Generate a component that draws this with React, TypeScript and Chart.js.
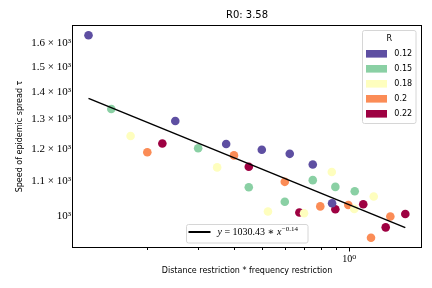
import { useEffect, useRef } from 'react';
import { Chart, registerables } from 'chart.js';

Chart.register(...registerables);

// ---- data ----
const rLabels = ['0.12', '0.15', '0.18', '0.2', '0.22'];
const rColors = ['#5e4fa2', '#8ad0a4', '#fefebe', '#fb8c56', '#9e0142'];

const xR012 = [0.126, 0.251, 0.376, 0.499, 0.623, 0.748, 0.872];
const yR012 = [1636, 1295, 1216, 1197, 1184, 1150, 1035];
const xR015 = [0.151, 0.301, 0.45, 0.599, 0.748, 0.895, 1.044];
const yR015 = [1338, 1202, 1081, 1039, 1102, 1082, 1069];
const xR018 = [0.176, 0.35, 0.524, 0.698, 0.87, 1.04, 1.214];
const yR018 = [1243, 1141, 1012, 1007, 1127, 1019, 1054];
const xR020 = [0.201, 0.4, 0.599, 0.794, 0.992, 1.188, 1.385];
const yR020 = [1189, 1179, 1097, 1026, 1030, 942, 998];
const xR022 = [0.2265, 0.45, 0.6725, 0.895, 1.117, 1.335, 1.56];
const yR022 = [1218, 1143, 1009, 1018, 1032, 969, 1005];

const seriesX = [xR012, xR015, xR018, xR020, xR022];
const seriesY = [yR012, yR015, yR018, yR020, yR022];

const fitA = 1030.43;
const fitB = -0.14;
const fitX = [0.126, 1.56];

const xTicks = [0.2, 0.3, 0.4, 0.5, 0.6, 0.7, 0.8, 0.9, 1];
const yTicks = [1000, 1100, 1200, 1300, 1400, 1500, 1600];

const titleText = 'R0: 3.58';
const xTitle = 'Distance restriction * frequency restriction';
const yTitle = 'Speed of epidemic spread τ';
const legendTitle = 'R';

const SANS = '"DejaVu Sans", sans-serif';
const SERIF = '"Liberation Serif", "DejaVu Serif", serif';

const decor = {
  id: 'decor',
  afterDraw(chart: any) {
    const { ctx, chartArea } = chart;
    const { left, top, right, bottom } = chartArea;
    const xs = chart.scales.x;
    ctx.save();
    // frame
    ctx.strokeStyle = '#000';
    ctx.lineWidth = 1;
    ctx.strokeRect(Math.round(left) - 0.5, Math.round(top) + 0.5, Math.round(right - left) + 1, Math.round(bottom - top) - 1);
    // x ticks
    for (const v of xTicks) {
      const px = Math.round(xs.getPixelForValue(v)) + 0.5;
      const len = v === 1 ? 3.5 : 2;
      ctx.beginPath();
      ctx.moveTo(px, bottom);
      ctx.lineTo(px, bottom + len);
      ctx.stroke();
    }
    // title
    ctx.fillStyle = '#000';
    ctx.font = `10px ${SANS}`;
    ctx.textAlign = 'center';
    ctx.textBaseline = 'middle';
    ctx.fillText(titleText, (left + right) / 2, 15.5);

    // R legend
    const lx = 362.5, ly = 30.5, lw = 53.5, lh = 93;
    ctx.beginPath();
    (ctx as any).roundRect(lx, ly, lw, lh, 2);
    ctx.fillStyle = 'rgba(255,255,255,0.8)';
    ctx.fill();
    ctx.strokeStyle = '#d6d6d6';
    ctx.stroke();
    ctx.fillStyle = '#000';
    ctx.font = `8px ${SANS}`;
    ctx.textAlign = 'center';
    ctx.fillText(legendTitle, lx + lw / 2, 39);
    ctx.textAlign = 'left';
    rLabels.forEach((lab, i) => {
      const cy = 53.8 + i * 15;
      ctx.fillStyle = rColors[i];
      ctx.fillRect(366, cy - 3.8, 21, 7.6);
      ctx.fillStyle = '#000';
      ctx.fillText(lab, 394.3, cy + 0.5);
    });

    // fit legend
    const fx = 186.5, fy = 224.5, fw = 121.5, fh = 18.5;
    ctx.beginPath();
    (ctx as any).roundRect(fx, fy, fw, fh, 2);
    ctx.fillStyle = 'rgba(255,255,255,0.8)';
    ctx.fill();
    ctx.strokeStyle = '#d6d6d6';
    ctx.stroke();
    ctx.strokeStyle = '#000';
    ctx.lineWidth = 2;
    ctx.beginPath();
    ctx.moveTo(188.5, 232);
    ctx.lineTo(210.5, 232);
    ctx.stroke();
    ctx.fillStyle = '#000';
    ctx.textBaseline = 'alphabetic';
    let tx = 217.5;
    const base = 235;
    const put = (s: string, font: string, dy = 0) => {
      ctx.font = font;
      ctx.fillText(s, tx, base + dy);
      tx += ctx.measureText(s).width;
    };
    put('y', `italic 10px ${SERIF}`);
    put(' = 1030.43 ∗ ', `10px ${SERIF}`);
    put('x', `italic 10px ${SERIF}`);
    tx += 0.5;
    put('−0.14', `7px ${SERIF}`, -4);
    ctx.restore();
  },
};

export default function App() {
  const ref = useRef<HTMLCanvasElement | null>(null);
  useEffect(() => {
    if (!ref.current) return;
    const datasets: any[] = [
      {
        type: 'line',
        label: 'fit',
        data: fitX.map((x) => ({ x, y: fitA * Math.pow(x, fitB) })),
        borderColor: '#000',
        borderWidth: 1.5,
        pointRadius: 0,
        order: -1,
      },
      ...seriesX.map((xsArr, i) => ({
        type: 'scatter',
        label: rLabels[i],
        data: xsArr.map((x, j) => ({ x, y: seriesY[i][j] })),
        backgroundColor: rColors[i],
        borderWidth: 0,
        pointRadius: 4.3,
        order: 1,
      })),
    ];
    const chart = new Chart(ref.current, {
      type: 'scatter',
      data: { datasets },
      options: {
        animation: false,
        responsive: false,
        devicePixelRatio: 1,
        layout: { padding: { top: 25, right: 11, left: 0, bottom: 0 } },
        plugins: { legend: { display: false }, tooltip: { enabled: false }, title: { display: false } },
        scales: {
          x: {
            type: 'logarithmic',
            min: 0.1114,
            max: 1.767,
            afterBuildTicks: (s: any) => {
              s.ticks = xTicks.map((v) => ({ value: v, major: v === 1 }));
            },
            afterFit: (s: any) => {
              s.height = 40;
            },
            grid: { display: false, drawTicks: false },
            border: { display: false },
            ticks: {
              autoSkip: false,
              maxRotation: 0,
              padding: 5,
              color: '#000',
              font: { family: SERIF, size: 10 },
              callback: (v: any) => (Number(v) === 1 ? '10⁰' : ''),
            },
            title: {
              display: true,
              text: xTitle,
              color: '#000',
              font: { family: SANS, size: 8 },
              padding: { top: 0, bottom: 12 },
            },
          },
          y: {
            type: 'logarithmic',
            min: 916,
            max: 1682,
            afterBuildTicks: (s: any) => {
              s.ticks = yTicks.map((v) => ({ value: v, major: v === 1000 }));
            },
            afterFit: (s: any) => {
              s.width = 73;
            },
            grid: { display: false, drawTicks: false },
            border: { display: false },
            ticks: {
              autoSkip: false,
              padding: 2,
              color: '#000',
              font: { family: SERIF, size: 11 },
              callback: (v: any) => {
                const n = Number(v);
                return n === 1000 ? '10³' : `${(n / 1000).toFixed(1)} × 10³`;
              },
            },
            title: {
              display: true,
              text: yTitle,
              color: '#000',
              font: { family: SANS, size: 8 },
              padding: { top: 15, bottom: 0 },
            },
          },
        },
      },
      plugins: [decor],
    } as any);
    return () => chart.destroy();
  }, []);
  return (
    <div style={{ position: 'absolute', left: 0, top: 0, width: 432, height: 288, background: '#fff' }}>
      <canvas ref={ref} width={432} height={288} style={{ display: 'block' }} />
    </div>
  );
}
